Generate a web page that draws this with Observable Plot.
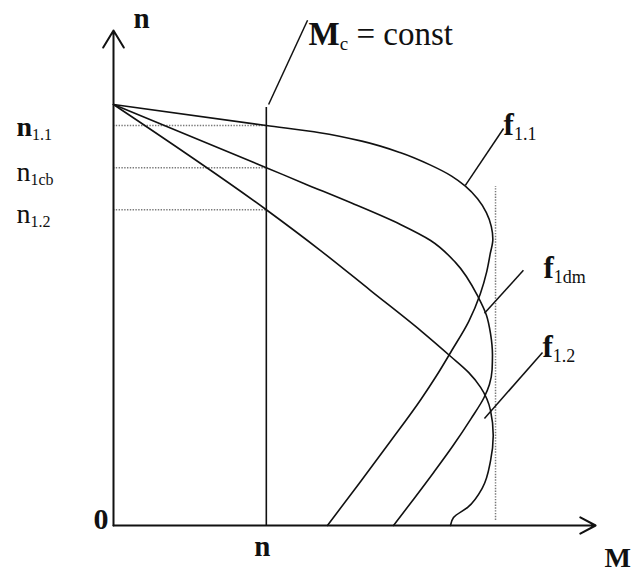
<!DOCTYPE html>
<html>
<head>
<meta charset="utf-8">
<script src="https://cdn.jsdelivr.net/npm/d3@7"></script>
<script src="https://cdn.jsdelivr.net/npm/@observablehq/plot@0.6"></script>
<style>
  html, body { margin: 0; padding: 0; background: #fff; }
  #chart svg { display: block; }
</style>
</head>
<body>
<div id="chart"></div>
<script>
// Mechanical characteristics n(M) of an induction motor fed at three frequencies.
// Torque M in % of the breakdown torque, speed n in % of the no-load speed.
const n0 = 100;                       // no-load speed, common start of every curve
const mMax = 100;                     // breakdown torque (dotted limit)
const mLoad = 40;                     // constant load torque Mc
const nLevels = [95, 85, 75];         // operating speeds at M = Mc
const levelLabels = ["n|1.1", "n|1cb", "n|1.2"];

// f1.1 characteristic
const f11M = [0, 40, 54, 65, 75, 83, 88.5, 92.1, 95.3, 97.6, 98.9, 99.3, 98.6, 97.7, 96.0, 93.0, 88.5, 84.5, 80.5, 72.5, 64.3, 56.0];
const f11N = [100, 95, 93.3, 91.3, 88.6, 85.6, 83.0, 80.6, 77.6, 74.3, 71.0, 68.0, 64.5, 60.3, 55.0, 48.5, 41.5, 35.5, 30.0, 20.0, 10.0, 0];
// f1dm characteristic
const f1dmM = [0, 40, 50, 62, 75.1, 83, 89.5, 95.5, 97.6, 98.7, 99.2, 99.1, 98.4, 97.0, 93.6, 88.9, 83.8, 78.6, 73.3];
const f1dmN = [100, 85, 81.2, 76.7, 71.5, 67.7, 62.5, 54.2, 50.0, 45.5, 40.5, 37.0, 33.5, 30.4, 25.4, 19.0, 12.6, 6.3, 0];
// f1.2 characteristic
const f12M = [0, 40, 54.2, 67.3, 80.4, 88.2, 93.0, 96.1, 98.7, 99.4, 98.7, 96.6, 92.7, 89.0, 88.2];
const f12N = [100, 75, 65.3, 55.8, 46.3, 40.2, 36.3, 32.8, 27.3, 21.4, 15.4, 9.0, 4.3, 1.9, 0];

const curveNames = ["f|1.1", "f|1dm", "f|1.2"];
const curveM = [f11M, f1dmM, f12M];
const curveN = [f11N, f1dmN, f12N];

// long table for the line mark
const rows = curveNames.flatMap((name, k) =>
  curveM[k].map((m, i) => ({curve: name, M: m, n: curveN[k][i]})));
const levels = nLevels.map((n, i) => ({n, label: levelLabels[i]}));

// axis extents and annotation placement
const mAxisEnd = 126.2, nAxisEnd = 117.6;
const notes = [
  {label: "M|c| = const", x1: 40.6, y1: 100.0, x2: 50.8, y2: 120.0, dx: 1, dy: 25, size: 33},
  {label: curveNames[0], x1: 92.1, y1: 80.8, x2: 102.1, y2: 94.3, dx: 0, dy: 7, size: 31},
  {label: curveNames[1], x1: 97.1, y1: 50.4, x2: 107.3, y2: 60.6, dx: 20, dy: 8, size: 31},
  {label: curveNames[2], x1: 97.1, y1: 25.4, x2: 112.3, y2: 41.1, dx: 0, dy: 5, size: 31}
];

const ink = "#111";
const serif = "'Liberation Serif', 'Times New Roman', serif";
const dotted = {stroke: "#7a7a7a", strokeWidth: 1.5, strokeDasharray: "1.4 1.4"};
const txt = {textAnchor: "start", lineAnchor: "bottom", fill: ink, fontFamily: serif};

const svg = Plot.plot({
  width: 636,
  height: 573,
  marginLeft: 113,
  marginRight: 0,
  marginTop: 0,
  marginBottom: 48,
  x: {domain: [0, 136.9], axis: null},
  y: {domain: [0, 124.7], axis: null},
  style: {fontFamily: serif, background: "#fff", color: ink},
  marks: [
    // speed levels at the load torque
    Plot.ruleY(levels, {y: "n", x1: 0, x2: mLoad, ...dotted}),
    // breakdown torque limit
    Plot.ruleX([mMax], {x: d => d, y1: 1.2, y2: 80.5, ...dotted}),
    // load torque Mc = const
    Plot.ruleX([mLoad], {x: d => d, y1: 0, y2: n0 * 0.993, stroke: ink, strokeWidth: 1.6}),
    // characteristics: each one is single-valued in n
    Plot.line(rows, {x: "M", y: "n", z: "curve", curve: "monotone-y", stroke: ink, strokeWidth: 1.6}),
    // axes
    Plot.arrow([0], {x1: 0, y1: 0, x2: 0, y2: nAxisEnd, stroke: ink, strokeWidth: 2, headLength: 15, headAngle: 62}),
    Plot.arrow([0], {x1: 0, y1: 0, x2: mAxisEnd, y2: 0, stroke: ink, strokeWidth: 2, headLength: 13, headAngle: 56}),
    // leader lines
    Plot.link(notes, {x1: "x1", y1: "y1", x2: "x2", y2: "y2", stroke: ink, strokeWidth: 1.5}),
    // labels
    ...notes.map(d => Plot.text([d], {x: "x2", y: "y2", text: "label", ...txt,
      dx: d.dx, dy: d.dy, fontSize: d.size, fontWeight: "bold"})),
    Plot.text(levels.slice(0, 1), {x: 0, y: "n", text: "label", ...txt,
      dx: -97, dy: 10, fontSize: 28, fontWeight: "bold"}),
    Plot.text(levels.slice(1), {x: 0, y: "n", text: "label", ...txt,
      dx: -97, dy: 13, fontSize: 28}),
    Plot.text(["n"], {x: 0, y: nAxisEnd, text: d => d, ...txt,
      dx: 20, dy: -2, fontSize: 29, fontWeight: "bold"}),
    Plot.text(["0"], {x: 0, y: 0, text: d => d, ...txt, textAnchor: "end",
      dx: -5, dy: 3, fontSize: 30, fontWeight: "bold"}),
    Plot.text(["n"], {x: mLoad, y: 0, text: d => d, ...txt, textAnchor: "middle",
      dx: -4, dy: 30, fontSize: 29, fontWeight: "bold"}),
    Plot.text(["M"], {x: mAxisEnd, y: 0, text: d => d, ...txt,
      dx: 9, dy: 41, fontSize: 28, fontWeight: "bold"})
  ]
});

// "base|sub|rest" labels: subscript in a smaller regular face
d3.select(svg).selectAll("text").each(function () {
  const parts = this.textContent.split("|");
  if (parts.length < 2) return;
  const size = parseFloat(this.parentNode.getAttribute("font-size")) || 28;
  const subSize = Math.round(size * 0.58);
  const shift = Math.round(size * 0.15);
  this.textContent = "";
  const t = d3.select(this);
  t.append("tspan").text(parts[0]);
  t.append("tspan").attr("font-size", subSize).attr("font-weight", "normal").attr("dy", shift).text(parts[1]);
  if (parts[2]) t.append("tspan").attr("font-weight", "normal").attr("dy", -shift).text(parts[2]);
});

document.getElementById("chart").appendChild(svg);
</script>
</body>
</html>
